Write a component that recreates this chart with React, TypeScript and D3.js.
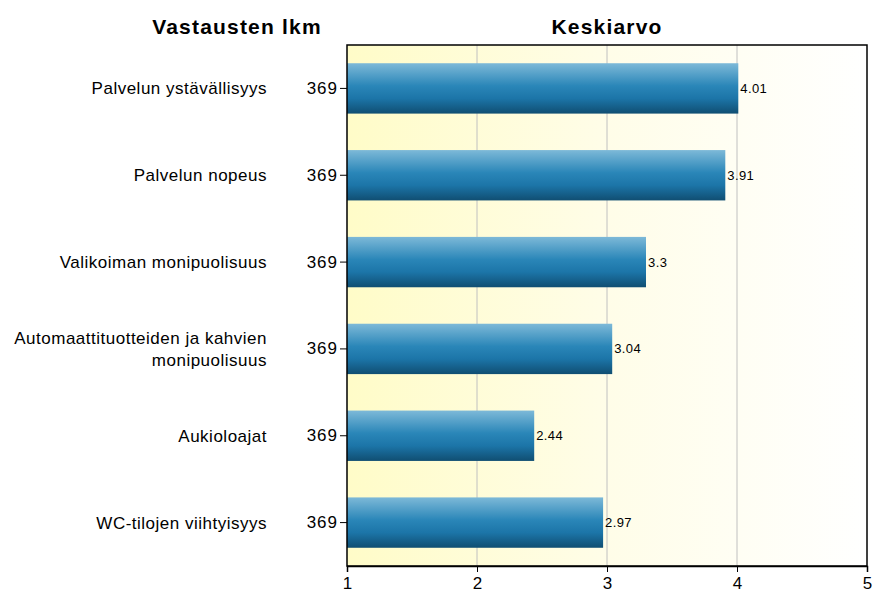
import React, { useEffect, useRef } from 'react';
import * as d3 from 'd3';

const categories = [
  'Palvelun ystävällisyys',
  'Palvelun nopeus',
  'Valikoiman monipuolisuus',
  'Automaattituotteiden ja kahvien monipuolisuus',
  'Aukioloajat',
  'WC-tilojen viihtyisyys',
];
const labelLines = [
  ['Palvelun ystävällisyys'],
  ['Palvelun nopeus'],
  ['Valikoiman monipuolisuus'],
  ['Automaattituotteiden ja kahvien', 'monipuolisuus'],
  ['Aukioloajat'],
  ['WC-tilojen viihtyisyys'],
];
const counts = [369, 369, 369, 369, 369, 369];
const means = [4.01, 3.91, 3.3, 3.04, 2.44, 2.97];
const xTicks = [1, 2, 3, 4, 5];

const FONT = 'Liberation Sans, Arial, sans-serif';

const App: React.FC = () => {
  const svgRef = useRef<SVGSVGElement>(null);

  useEffect(() => {
    if (!svgRef.current) return;
    const width = 873;
    const height = 593;
    const margin = { top: 45, right: 6, bottom: 27, left: 347 };
    const innerWidth = width - margin.left - margin.right;
    const innerHeight = height - margin.top - margin.bottom;

    const svg = d3.select(svgRef.current);
    svg.selectAll('*').remove();
    svg.attr('width', width).attr('height', height);

    const defs = svg.append('defs');
    const bg = defs.append('linearGradient').attr('id', 'bgGrad')
      .attr('x1', '0%').attr('x2', '100%').attr('y1', '0%').attr('y2', '0%');
    bg.append('stop').attr('offset', '0%').attr('stop-color', '#fffcc8');
    bg.append('stop').attr('offset', '50%').attr('stop-color', '#fffde8');
    bg.append('stop').attr('offset', '100%').attr('stop-color', '#ffffff');

    const barGrad = defs.append('linearGradient').attr('id', 'barGrad')
      .attr('x1', '0%').attr('x2', '0%').attr('y1', '0%').attr('y2', '100%');
    barGrad.append('stop').attr('offset', '0%').attr('stop-color', '#7db9d8');
    barGrad.append('stop').attr('offset', '45%').attr('stop-color', '#2a86b8');
    barGrad.append('stop').attr('offset', '70%').attr('stop-color', '#1c75a8');
    barGrad.append('stop').attr('offset', '100%').attr('stop-color', '#104e72');

    const x = d3.scaleLinear().domain([1, 5]).range([0, innerWidth]);
    const y = d3.scaleBand<string>().domain(categories).range([0, innerHeight]).paddingInner(0.42).paddingOuter(0.21);

    const g = svg.append('g').attr('transform', `translate(${margin.left},${margin.top})`);

    g.append('rect').attr('width', innerWidth).attr('height', innerHeight).attr('fill', 'url(#bgGrad)');

    // vertical grid lines
    g.append('g')
      .selectAll('line')
      .data(xTicks.slice(1, -1))
      .join('line')
      .attr('x1', d => x(d)).attr('x2', d => x(d))
      .attr('y1', 0).attr('y2', innerHeight)
      .attr('stroke', '#c0c0c0').attr('stroke-width', 1);

    g.selectAll('.bar')
      .data(means)
      .join('rect')
      .attr('class', 'bar')
      .attr('x', x(1))
      .attr('y', (_, i) => y(categories[i]) as number)
      .attr('width', d => x(d) - x(1))
      .attr('height', y.bandwidth())
      .attr('fill', 'url(#barGrad)');

    g.selectAll('.val')
      .data(means)
      .join('text')
      .attr('class', 'val')
      .attr('x', d => x(d) + 2)
      .attr('y', (_, i) => (y(categories[i]) as number) + y.bandwidth() / 2)
      .attr('dy', '0.35em')
      .style('font-family', FONT)
      .style('font-size', '13px')
      .style('letter-spacing', '0.4px')
      .attr('fill', '#000')
      .text(d => String(d));

    g.append('rect').attr('width', innerWidth).attr('height', innerHeight)
      .attr('fill', 'none').attr('stroke', '#000').attr('stroke-width', 1.5);

    const xAxis = g.append('g')
      .attr('transform', `translate(0,${innerHeight})`)
      .call(d3.axisBottom(x).tickValues(xTicks).tickSize(6).tickFormat(d3.format('d')));
    xAxis.select('.domain').attr('stroke-width', 1.5);
    xAxis.selectAll('text')
      .style('font-family', FONT)
      .style('font-size', '17px')
      .attr('dy', '0.85em');

    const yAxis = g.append('g')
      .call(d3.axisLeft(y).tickSize(7).tickFormat((_, i) => String(counts[i])));
    yAxis.select('.domain').remove();
    yAxis.selectAll('text')
      .style('font-family', FONT)
      .style('font-size', '17px')
      .style('letter-spacing', '1px')
      .attr('x', -9);

    const labels = g.append('g');
    categories.forEach((c, i) => {
      const lines = labelLines[i];
      const cy = (y(c) as number) + y.bandwidth() / 2;
      const t = labels.append('text')
        .attr('text-anchor', 'end')
        .style('font-family', FONT)
        .style('font-size', '17px')
        .style('letter-spacing', '0.5px')
        .attr('fill', '#000');
      lines.forEach((ln, k) => {
        t.append('tspan')
          .attr('x', -80)
          .attr('y', cy + (k - (lines.length - 1) / 2) * 22)
          .attr('dy', '0.35em')
          .text(ln);
      });
    });

    svg.append('text')
      .attr('x', 237).attr('y', 34)
      .attr('text-anchor', 'middle')
      .style('font-family', FONT)
      .style('font-size', '21px').style('font-weight', 'bold')
      .style('letter-spacing', '1.2px')
      .text('Vastausten lkm');

    svg.append('text')
      .attr('x', margin.left + innerWidth / 2).attr('y', 34)
      .attr('text-anchor', 'middle')
      .style('font-family', FONT)
      .style('font-size', '21px').style('font-weight', 'bold')
      .style('letter-spacing', '1.2px')
      .text('Keskiarvo');
  }, []);

  return (
    <div style={{ position: 'absolute', left: 0, top: 0 }}>
      <svg ref={svgRef} style={{ display: 'block' }} />
    </div>
  );
};

export default App;
